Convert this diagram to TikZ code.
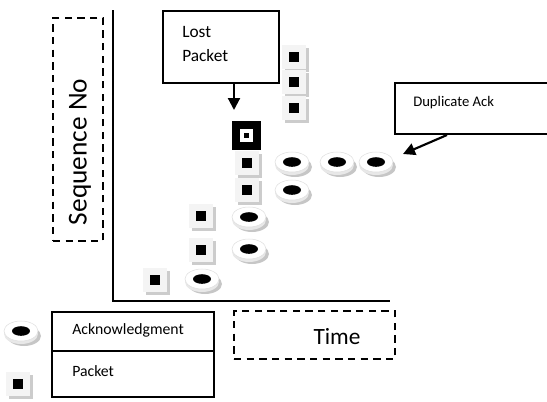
\documentclass[tikz,border=0pt]{standalone}
\usepackage{fontspec}
\setmainfont{Carlito}
\usetikzlibrary{arrows.meta}
\begin{document}
\begin{tikzpicture}[x=0.75pt,y=-0.75pt,
  box/.style={draw,line width=1.5pt,inner sep=0pt},
  dashbox/.style={draw,line width=1.8pt,dash pattern=on 5.5pt off 4pt,inner sep=0pt},
  axis/.style={line width=1.5pt},
  callout/.style={line width=1.6pt,-{Triangle[width=9pt,length=9pt]}},
  label/.style={inner sep=0pt,anchor=west,align=left},
  lostpkt/.style={fill=black,minimum size=0.75pt*29,inner sep=0pt},
  packet/.pic={
    \fill[gray!40] (-9,-9) rectangle (15,15);
    \fill[gray!9] (-12,-12) rectangle (12,12);
    \fill[black] (-5,-5) rectangle (5,5);
  },
  ack/.pic={
    \fill[gray!45] (3,5) ellipse [x radius=17,y radius=10];
    \fill[gray!18] (0,3) ellipse [x radius=17,y radius=10];
    \filldraw[fill=white,draw=gray!25,line width=0.4pt] (0,0) ellipse [x radius=17,y radius=10];
    \fill[black] (0,0) ellipse [x radius=9,y radius=4.8];
  }]
\useasboundingbox (0,0) rectangle (547,401);

% axes
\coordinate (origin) at (113,301);
\draw[axis] (113,10) -- (origin) -- (390,301);

% axis labels
\node[dashbox,minimum width=0.75pt*50,minimum height=0.75pt*223] (seqbox) at (78,129.5) {};
\node[rotate=90,inner sep=0pt,font=\fontsize{20.5}{24}\selectfont] (seqtxt) at (80,152) {Sequence No};
\node[dashbox,minimum width=0.75pt*161,minimum height=0.75pt*48] (timebox) at (314.5,335) {};
\node[inner sep=0pt,font=\fontsize{17.5}{21}\selectfont] (timetxt) at (337,337) {Time};

% packets
\foreach \px/\py [count=\i] in {294/57,294/82,294/108,247/163,247/190,201/216,201/250,155/280}
  \pic (pkt\i) at (\px,\py) {packet};

% acknowledgments
\foreach \ax/\ay [count=\i] in {202/279,249/217,249/249,292/162,337/162,376/162,292/190}
  \pic (ack\i) at (\ax,\ay) {ack};

% lost packet
\node[lostpkt] (lost) at (246.5,135.5) {};
\fill[white] ([shift={(-6.5,-6.5)}]lost.center) rectangle ([shift={(6.5,6.5)}]lost.center);
\fill[black] ([shift={(-2.5,-2.5)}]lost.center) rectangle ([shift={(2.5,2.5)}]lost.center);

% callout: lost packet
\node[box,minimum width=0.75pt*116,minimum height=0.75pt*72] (lostbox) at (221,47) {};
\node[label,font=\fontsize{13}{18}\selectfont] (losttxt) at (182,44) {Lost\\Packet};
\coordinate (losttip) at (234,110);
\draw[callout] (lostbox.south -| losttip) -- (losttip);

% callout: duplicate ack
\node[box,minimum width=0.75pt*156,minimum height=0.75pt*51] (dupbox) at (473,108.5) {};
\node[label,font=\fontsize{11}{13}\selectfont] (duptxt) at (413,103) {Duplicate Ack};
\coordinate (dupfoot) at (447,134);
\coordinate (duptip) at (403,154);
\draw[callout] (dupbox.south -| dupfoot) -- (duptip);

% legend
\pic (legack) at (21,331) {ack};
\pic (legpkt) at (18,384) {packet};
\node[box,minimum width=0.75pt*162,minimum height=0.75pt*39] (legackcell) at (133,331.5) {};
\node[box,minimum width=0.75pt*162,minimum height=0.75pt*46] (legpktcell) at (133,374) {};
\node[label,font=\fontsize{11.8}{14}\selectfont] (legacktxt) at (72,330) {Acknowledgment};
\node[label,font=\fontsize{11.8}{14}\selectfont] (legpkttxt) at (72,371) {Packet};
\end{tikzpicture}
\end{document}
